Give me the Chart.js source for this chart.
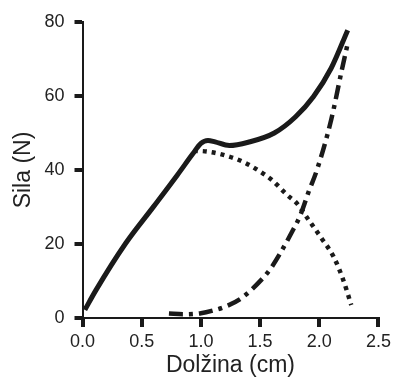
<!DOCTYPE html>
<html>
<head>
<meta charset="utf-8">
<script src="https://cdn.jsdelivr.net/npm/chart.js@4"></script>
<style>
  html, body { margin: 0; padding: 0; background: #fff; }
  #wrap { width: 395px; height: 383px; }
</style>
</head>
<body>
<div id="wrap"><canvas id="chart"></canvas></div>
<script>
// skupna sila (polna črta)
const totalX = [0.02, 0.115, 0.365, 0.6, 0.8, 0.93, 1.0, 1.06, 1.12, 1.24, 1.4, 1.62, 1.8, 1.95, 2.1, 2.24];
const totalY = [2.2, 7.6, 20.2, 30.1, 38.6, 44.3, 47.2, 48, 47.6, 46.6, 47.5, 50, 54.4, 59.8, 67.5, 77.8];
// aktivna sila (pikčasta)
const activeX = [0.94, 1.05, 1.2, 1.35, 1.48, 1.6, 1.73, 1.81, 1.91, 2.02, 2.12, 2.2, 2.27];
const activeY = [45.2, 45, 44, 42.3, 40, 37.3, 33.2, 31, 26.5, 21.5, 16.6, 10.5, 3.5];
// pasivna sila (črta-pika)
const passiveX = [0.73, 0.85, 1.0, 1.1, 1.2, 1.34, 1.51, 1.59, 1.67, 1.77, 1.84, 1.91, 1.98, 2.1, 2.19, 2.24];
const passiveY = [1.2, 1.0, 1.3, 2, 3, 5.3, 10.3, 13.4, 17.5, 23.3, 27.8, 34.1, 40, 53.5, 67, 74.2];

const xTicks = [0, 0.5, 1.0, 1.5, 2.0, 2.5];
const yTicks = [0, 20, 40, 60, 80];

const pts = (xs, ys) => xs.map((x, i) => ({ x, y: ys[i] }));
const ink = '#1a1a1a';
const font = 'Liberation Sans, Arial, sans-serif';

function line(data, width, dash) {
    return {
        data,
        borderColor: ink,
        borderWidth: width,
        borderDash: dash,
        borderCapStyle: 'butt',
        pointRadius: 0,
        cubicInterpolationMode: 'monotone',
        fill: false
    };
}

new Chart(document.getElementById('chart'), {
    type: 'line',
    data: {
        datasets: [
            line(pts(passiveX, passiveY), 4.5, [14, 6, 4, 6]),
            line(pts(activeX, activeY), 4.5, [4, 5]),
            line(pts(totalX, totalY), 5, [])
        ]
    },
    options: {
        responsive: true,
        maintainAspectRatio: false,
        animation: false,
        layout: { padding: { top: 22, right: 12, left: 0, bottom: 0 } },
        plugins: { legend: { display: false }, tooltip: { enabled: false } },
        scales: {
            x: {
                type: 'linear',
                min: 0, max: 2.5,
                afterBuildTicks: s => { s.ticks = xTicks.map(v => ({ value: v })); },
                afterFit: s => { s.height = 65; },
                border: { color: ink, width: 2 },
                grid: { drawOnChartArea: false, drawTicks: true, tickLength: 9, lineWidth: 4, tickWidth: 4, color: ink },
                ticks: {
                    color: '#222', padding: 4, maxRotation: 0,
                    font: { family: font, size: 18 },
                    callback: v => v.toFixed(1)
                },
                title: {
                    display: true, text: 'Dolžina (cm)', color: '#222', padding: { top: 7 },
                    font: { family: font, size: 23 }
                }
            },
            y: {
                min: 0, max: 80,
                afterBuildTicks: s => { s.ticks = yTicks.map(v => ({ value: v })); },
                afterFit: s => { s.width = 82.5; },
                border: { color: ink, width: 2 },
                grid: { drawOnChartArea: false, drawTicks: true, tickLength: 8, lineWidth: 4, tickWidth: 4, color: ink },
                ticks: {
                    color: '#222', padding: 10,
                    font: { family: font, size: 18 }
                },
                title: {
                    display: true, text: 'Sila (N)', color: '#222', padding: { top: 10, bottom: 0 },
                    font: { family: font, size: 23 }
                }
            }
        }
    }
});
</script>
</body>
</html>
